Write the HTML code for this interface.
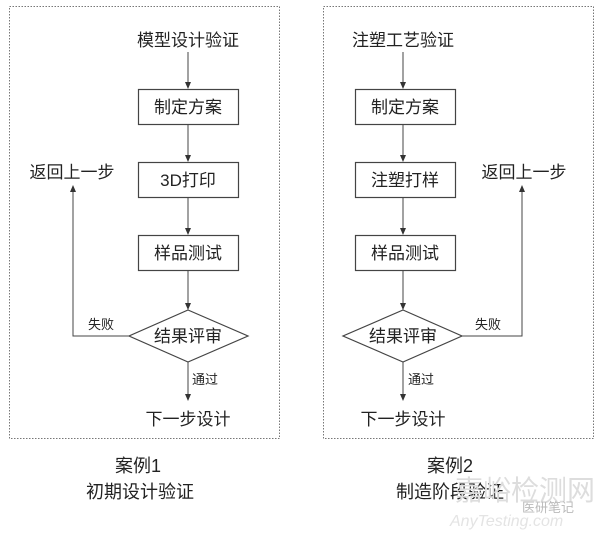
<!DOCTYPE html>
<html><head><meta charset="utf-8"><style>
body{margin:0;background:#fff;}
svg text{font-family:"Liberation Sans","Noto Sans CJK SC",sans-serif;fill:#222;}
</style></head><body>
<svg width="600" height="532" viewBox="0 0 600 532" xmlns="http://www.w3.org/2000/svg">
<defs><marker id="a" markerWidth="8" markerHeight="8" refX="6" refY="4" orient="auto" markerUnits="userSpaceOnUse"><path d="M0,1 L7,4 L0,7 z" fill="#333"/></marker></defs>
<g fill="none" stroke="#777" stroke-width="1" stroke-dasharray="1.5,1.5">
<rect x="9.5" y="6.5" width="270" height="432"/>
<rect x="323.5" y="6.5" width="270" height="432"/>
</g>
<g stroke="#444" stroke-width="1.2" fill="#fff">
<rect x="138.5" y="89.5" width="100" height="35"/>
<rect x="138.5" y="162.5" width="100" height="35"/>
<rect x="138.5" y="235.5" width="100" height="35"/>
<polygon points="188,310 248,336 188,362 129,336"/>
<rect x="355.5" y="89.5" width="100" height="35"/>
<rect x="355.5" y="162.5" width="100" height="35"/>
<rect x="355.5" y="235.5" width="100" height="35"/>
<polygon points="403,310 462,336 403,362 343,336"/>
</g>
<g stroke="#444" stroke-width="1" fill="none" marker-end="url(#a)">
<line x1="188" y1="52" x2="188" y2="88"/>
<line x1="188" y1="125" x2="188" y2="161"/>
<line x1="188" y1="198" x2="188" y2="234"/>
<line x1="188" y1="271" x2="188" y2="309"/>
<line x1="188" y1="362" x2="188" y2="400"/>
<polyline points="129,336 73,336 73,186"/>
<line x1="403" y1="52" x2="403" y2="88"/>
<line x1="403" y1="125" x2="403" y2="161"/>
<line x1="403" y1="198" x2="403" y2="234"/>
<line x1="403" y1="271" x2="403" y2="309"/>
<line x1="403" y1="362" x2="403" y2="400"/>
<polyline points="462,336 522,336 522,186"/>
</g>
<g font-size="17" text-anchor="middle">
<text x="188" y="46">模型设计验证</text>
<text x="188" y="113">制定方案</text>
<text x="188" y="186">3D打印</text>
<text x="188" y="259">样品测试</text>
<text x="188" y="342">结果评审</text>
<text x="188" y="425">下一步设计</text>
<text x="72" y="178">返回上一步</text>
<text x="403" y="46">注塑工艺验证</text>
<text x="405" y="113">制定方案</text>
<text x="405" y="186">注塑打样</text>
<text x="405" y="259">样品测试</text>
<text x="403" y="342">结果评审</text>
<text x="403" y="425">下一步设计</text>
<text x="524" y="178">返回上一步</text>
<text x="138" y="472" font-size="18">案例1</text>
<text x="140" y="498" font-size="18">初期设计验证</text>
<text x="450" y="472" font-size="18">案例2</text>
<text x="450" y="498" font-size="18">制造阶段验证</text>
</g>
<g font-size="13">
<text x="88" y="329">失败</text>
<text x="192" y="384">通过</text>
<text x="475" y="329">失败</text>
<text x="408" y="384">通过</text>
</g>
<text x="455" y="500" font-size="28" style="fill:#ddd">嘉峪检测网</text>
<text x="522" y="512" font-size="13" style="fill:#bbb">医研笔记</text>
<text x="450" y="526" font-size="16" font-style="italic" style="fill:#e4e4e4">AnyTesting.com</text>
</svg>
</body></html>
